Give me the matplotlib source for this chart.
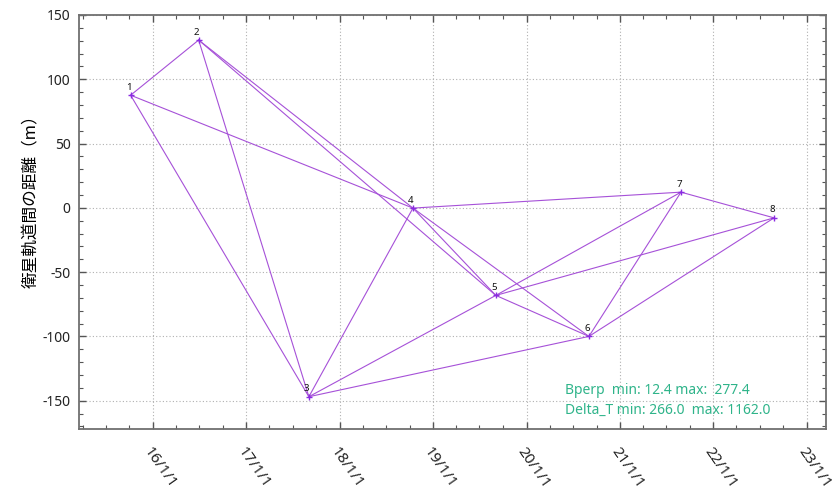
import matplotlib
matplotlib.use("Agg")
import matplotlib.pyplot as plt
import matplotlib.dates as mdates
from matplotlib.ticker import MultipleLocator
import numpy as np
import datetime as dt

plt.rcParams['font.family'] = ['Noto Sans', 'Noto Sans CJK JP', 'DejaVu Sans']

# ---- data ----
scene_ids = ['1', '2', '3', '4', '5', '6', '7', '8']
scene_dates = ['2015-10-06', '2016-06-28', '2017-09-02', '2018-10-14',
               '2019-09-03', '2020-09-01', '2021-08-27', '2022-08-26']
bperp = [87.6, 130.5, -146.9, -0.2, -68.1, -100.0, 12.2, -7.8]
pairs = [(1, 2), (1, 3), (1, 4), (2, 3), (2, 4), (2, 5), (3, 4), (3, 5), (3, 6),
         (4, 5), (4, 6), (4, 7), (5, 6), (5, 7), (5, 8), (6, 7), (6, 8), (7, 8)]
xtick_dates = ['2016-01-01', '2017-01-01', '2018-01-01', '2019-01-01',
               '2020-01-01', '2021-01-01', '2022-01-01', '2023-01-01']
xtick_labels = ['16/1/1', '17/1/1', '18/1/1', '19/1/1', '20/1/1', '21/1/1', '22/1/1', '23/1/1']
yticks = [-150, -100, -50, 0, 50, 100, 150]
stats_lines = ['Bperp  min: 12.4 max:  277.4', 'Delta_T min: 266.0  max: 1162.0']
ylabel = '衛星軌道間の距離（m）'

# ---- plot ----
to_dt = lambda s: dt.datetime.strptime(s, '%Y-%m-%d')
xs = [to_dt(s) for s in scene_dates]

fig = plt.figure(figsize=(8.4, 4.91), dpi=100)
ax = fig.add_axes([0.094, 0.1263, 0.889, 0.8432])

line_color = '#a651d8'
for a, b in pairs:
    ax.plot([xs[a - 1], xs[b - 1]], [bperp[a - 1], bperp[b - 1]],
            color=line_color, lw=0.8, zorder=2)
ax.plot(xs, bperp, linestyle='none', marker='+', ms=4, mew=1.0,
        color='#8a2be2', zorder=3)
for sid, x, y in zip(scene_ids, xs, bperp):
    ax.annotate(sid, (x, y), xytext=(-1.5, 2.5), textcoords='offset points',
                ha='center', va='bottom', fontsize=7, fontweight='bold',
                color='#111111', zorder=4)

ax.set_xlim(to_dt('2015-03-18'), to_dt('2023-03-16'))
ax.set_ylim(-172, 150)

ax.set_xticks([to_dt(s) for s in xtick_dates])
ax.set_xticklabels(xtick_labels, rotation=-55, ha='left', va='top',
                   rotation_mode='anchor', fontsize=11, color='#222222')
ax.xaxis.set_minor_locator(mdates.MonthLocator(bymonth=[1, 4, 7, 10]))
ax.set_yticks(yticks)
ax.set_yticklabels([str(v) for v in yticks], fontsize=10, color='#222222')
ax.yaxis.set_minor_locator(MultipleLocator(10))

ax.tick_params(which='both', direction='in', top=True, right=True, color='#555555')
ax.tick_params(which='major', length=5, width=1.0)
ax.tick_params(which='minor', length=3, width=0.8)
ax.tick_params(axis='x', which='major', pad=11)
ax.tick_params(axis='y', which='major', pad=6)

ax.grid(True, which='major', linestyle=(0, (1, 2)), color='#b0b0b0', lw=0.8)
for sp in ax.spines.values():
    sp.set_color('#707070')
    sp.set_linewidth(1.3)

ax.set_ylabel(ylabel, family=['Noto Sans CJK JP', 'DejaVu Sans'], fontsize=12)
ax.yaxis.set_label_coords(-0.052, 0.56)

ax.text(0.651, 0.093, stats_lines[0], transform=ax.transAxes, fontsize=10,
        color='#2fb48a', ha='left', va='center')
ax.text(0.651, 0.046, stats_lines[1], transform=ax.transAxes, fontsize=10,
        color='#2fb48a', ha='left', va='center')

fig.savefig('out.png', dpi=100)
